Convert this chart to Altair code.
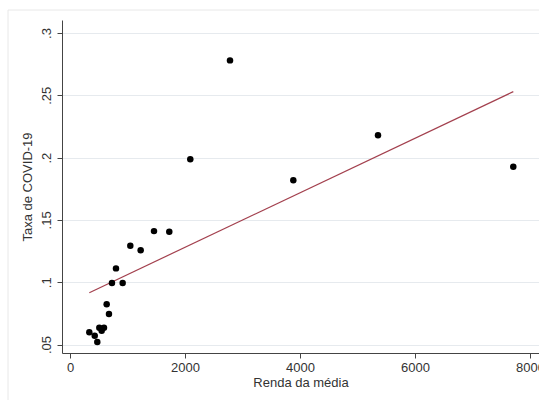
import altair as alt
import pandas as pd

# Scatter data
renda = [336, 430, 475, 510, 551, 591, 638, 678, 730, 800, 916,
         1049, 1229, 1461, 1727, 2092, 2783, 3884, 5357, 7710]
taxa = [0.0598, 0.057, 0.052, 0.0635, 0.061, 0.0635, 0.0823, 0.0745, 0.0994, 0.1111, 0.0994,
        0.1293, 0.1256, 0.141, 0.1405, 0.1986, 0.278, 0.1818, 0.218, 0.1927]

# Fitted line endpoints
fit_x = [336, 7710]
fit_y = [0.0916, 0.2529]

x_ticks = [0, 2000, 4000, 6000, 8000]
y_ticks = [0.05, 0.1, 0.15, 0.2, 0.25, 0.3]

pts = pd.DataFrame({"renda": renda, "taxa": taxa})
fit = pd.DataFrame({"renda": fit_x, "taxa": fit_y})

FONT = "Liberation Sans"

xscale = alt.Scale(domain=[-139, 8157], nice=False, zero=False)
yscale = alt.Scale(domain=[0.0432, 0.3104], nice=False, zero=False)

xaxis = alt.Axis(
    values=x_ticks, format="d", grid=False, title="Renda da média",
    domainColor="#444", tickColor="#444", tickSize=5, labelPadding=3,
    labelFontSize=13, labelColor="#333", labelFont=FONT,
    titleFont=FONT, titleFontSize=13, titleFontWeight="normal", titleColor="#333",
    titlePadding=2,
)
yaxis = alt.Axis(
    values=y_ticks, labelExpr="substring(format(datum.value, '.2~f'), 1)",
    grid=True, gridColor="#e6eaee", gridWidth=1,
    domainColor="#444", tickColor="#444", tickSize=5, labelPadding=4,
    labelAngle=270, labelAlign="center", labelBaseline="bottom",
    labelFontSize=13, labelColor="#333", labelFont=FONT,
    title="Taxa de COVID-19", titleFont=FONT, titleFontSize=13,
    titleFontWeight="normal", titleColor="#333", titlePadding=6,
)

frame = alt.Chart(alt.Data(values=[{"a": 1}])).mark_rect(
    fill="transparent", stroke="#e8e8e8", strokeWidth=1
).encode(
    x=alt.value(-54), x2=alt.value(482), y=alt.value(-10), y2=alt.value(382)
)

points = alt.Chart(pts).mark_circle(size=42, color="black", opacity=1).encode(
    x=alt.X("renda:Q", scale=xscale, axis=xaxis),
    y=alt.Y("taxa:Q", scale=yscale, axis=yaxis),
)

line = alt.Chart(fit).mark_line(color="#a3404e", strokeWidth=1.2).encode(
    x=alt.X("renda:Q", scale=xscale),
    y=alt.Y("taxa:Q", scale=yscale),
)

chart = alt.layer(frame, line, points).properties(
    width=477, height=333,
    autosize=alt.AutoSizeParams(type="none"),
    padding={"left": 62, "top": 20, "right": 0, "bottom": 47},
    background="white",
).configure_view(stroke=None)

chart.save("out.html", embed_options={"renderer": "svg", "actions": False})
